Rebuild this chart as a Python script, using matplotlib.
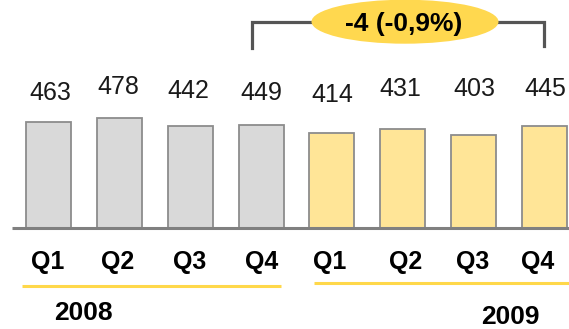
import matplotlib
matplotlib.use("Agg")
import matplotlib.pyplot as plt
import matplotlib.transforms as mtransforms
from matplotlib.patches import Ellipse

plt.rcParams['font.family'] = ['Liberation Sans', 'DejaVu Sans']

# Quarterly values
quarters = ["Q1", "Q2", "Q3", "Q4", "Q1", "Q2", "Q3", "Q4"]
values_2008 = [463, 478, 442, 449]
values_2009 = [414, 431, 403, 445]
years = ["2008", "2009"]
change_label = "-4 (-0,9%)"

W, H = 569, 329
fig = plt.figure(figsize=(W / 100, H / 100), dpi=100)
ax = fig.add_axes([0, 0, 1, 1])
ax.set_xlim(-0.684, 7.345)
ax.set_ylim(-442, 994)
ax.axis("off")

# pixel coordinates measured from the top-left corner
px = mtransforms.Affine2D().scale(1 / W, -1 / H).translate(0, 1) + fig.transFigure
# x in data units, y in pixels from the top
xpx = mtransforms.blended_transform_factory(ax.transData, px)
step = 70.86  # pixels per category

values = values_2008 + values_2009
xs = list(range(len(values)))
colors = ["#D9D9D9"] * 4 + ["#FFE597"] * 4
ax.bar(xs, values, width=0.635, color=colors, edgecolor="#8C8C8C",
       linewidth=1.3, zorder=2)

# baseline
ax.plot([12, W], [228, 228], transform=px, color="#808080", lw=2.2,
        solid_capstyle="butt", zorder=3)

# value labels above the bars
label_dx = [2, -1.5, -1.5, 0.5, 0, -3, 0.5, 1]
label_y = [93, 87, 91, 93.5, 95.5, 89.5, 89.5, 89.5]
for i, v in enumerate(values):
    ax.text(i + label_dx[i] / step, label_y[i], str(v), fontsize=18,
            ha="center", va="center", transform=xpx, color="#1a1a1a")

# quarter labels
q_dx = [-0.5, -1.5, -1, 1, -2.5, 3, -1.5, -6.5]
for i, q in enumerate(quarters):
    ax.text(i + q_dx[i] / step, 262, q, fontsize=18, fontweight="bold",
            ha="center", va="center", transform=xpx)

# year underlines and labels
ax.plot([21.7, 281], [285.7, 285.7], transform=px, color="#FFD84A", lw=2.2,
        solid_capstyle="butt")
ax.plot([314, W], [283.3, 283.3], transform=px, color="#FFD84A", lw=2.2,
        solid_capstyle="butt")
ax.text(83, 313, years[0], transform=px, fontsize=19, fontweight="bold",
        ha="center", va="center")
ax.text(510.5, 317, years[1], transform=px, fontsize=19, fontweight="bold",
        ha="center", va="center")

# bracket comparing Q4 2008 with Q4 2009
ax.plot([251.7, 251.7, 312], [48, 21.7, 21.7], transform=px, color="#555555",
        lw=2.3, solid_joinstyle="miter")
ax.plot([498, 544, 544], [21.7, 21.7, 46], transform=px, color="#555555",
        lw=2.3, solid_joinstyle="miter")
ell = Ellipse((405, 21.7), 187, 44, transform=px, facecolor="#FFD84F",
              edgecolor="none", zorder=4)
ax.add_patch(ell)
ax.text(404, 23.5, change_label, transform=px, fontsize=19, fontweight="bold",
        ha="center", va="center", zorder=5)

fig.savefig("out.png", dpi=100)
